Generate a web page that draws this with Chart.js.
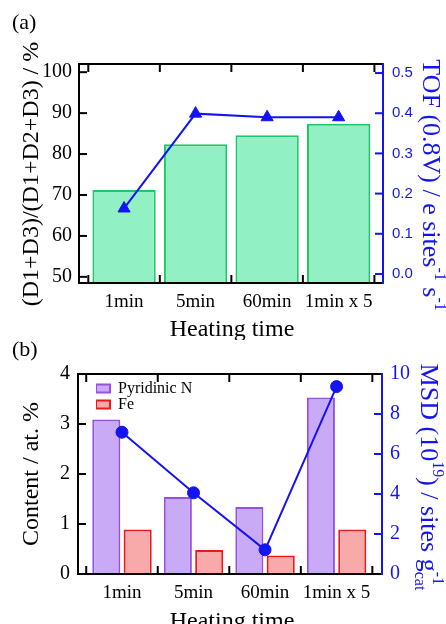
<!DOCTYPE html>
<html>
<head>
<meta charset="utf-8">
<script src="https://cdn.jsdelivr.net/npm/chart.js@4.4.1/dist/chart.umd.min.js"></script>
<style>
  body { margin: 0; background: #fff; width: 446px; height: 624px; overflow: hidden; }
  canvas { display: block; }
</style>
</head>
<body>
<canvas id="chartA" width="446" height="340"></canvas>
<canvas id="chartB" width="446" height="284"></canvas>
<script>
// data
const categories = ['1min', '5min', '60min', '1min x 5'];

const ratioValues = [71.2, 82.4, 84.6, 87.4];      // (D1+D3)/(D1+D2+D3) %
const tofValues = [0.163, 0.399, 0.390, 0.390];    // TOF at 0.8 V
const ratioTicks = [50, 60, 70, 80, 90, 100];
const tofTicks = [0, 0.1, 0.2, 0.3, 0.4, 0.5];

const pyridinicN = [3.09, 1.54, 1.34, 3.53];       // at. %
const feContent = [0.89, 0.48, 0.37, 0.89];        // at. %
const msdValues = [7.09, 4.06, 1.21, 9.37];        // 10^19 sites g-1
const contentTicks = [0, 1, 2, 3, 4];
const msdTicks = [0, 2, 4, 6, 8, 10];

const BLUE = 'rgb(20,20,240)';
const SERIF = '"Liberation Serif", "Times New Roman", serif';
const TICK_LEN = 8;

const points = vals => vals.map((v, i) => ({ x: i, y: v }));

function drawRich(ctx, t) {
  const big = t.size + 'px ' + SERIF;
  const small = Math.round(t.size * 0.6) + 'px ' + SERIF;
  const widthOf = p => {
    if (p.t) { ctx.font = big; return ctx.measureText(p.t).width; }
    ctx.font = small;
    return Math.max(p.sup ? ctx.measureText(p.sup).width : 0,
                    p.sub ? ctx.measureText(p.sub).width : 0);
  };
  let total = 0;
  t.parts.forEach(p => { total += widthOf(p); });
  ctx.save();
  ctx.translate(t.x, t.y);
  ctx.rotate(t.rot * Math.PI / 180);
  ctx.fillStyle = t.color;
  ctx.textAlign = 'left';
  ctx.textBaseline = 'alphabetic';
  let x = -total / 2;
  t.parts.forEach(p => {
    const w = widthOf(p);
    if (p.t) {
      ctx.font = big;
      ctx.fillText(p.t, x, 0);
    } else {
      ctx.font = small;
      if (p.sup) ctx.fillText(p.sup, x, -t.size * 0.48);
      if (p.sub) ctx.fillText(p.sub, x, t.size * 0.25);
    }
    x += w;
  });
  ctx.restore();
}

// frame, inward ticks, axis titles and panel letter
const decor = {
  id: 'decor',
  afterLayout(chart, args, opts) {
    if (chart.legend && opts.legendShift) {
      chart.legend.left = chart.chartArea.left + opts.legendShift[0];
      chart.legend.top = chart.chartArea.top + opts.legendShift[1];
    }
  },
  afterDraw(chart, args, opts) {
    const { ctx, chartArea: a, scales } = chart;
    const seg = (x1, y1, x2, y2, color) => {
      ctx.strokeStyle = color;
      ctx.lineWidth = 2;
      ctx.beginPath();
      ctx.moveTo(x1, y1);
      ctx.lineTo(x2, y2);
      ctx.stroke();
    };
    ctx.save();
    for (let i = 0; i <= categories.length; i++) {
      const x = scales.x.getPixelForValue(i - 0.5);
      seg(x, a.top, x, a.top + TICK_LEN, '#000');
      seg(x, a.bottom, x, a.bottom - TICK_LEN, '#000');
    }
    scales.y.ticks.forEach(t => {
      const y = scales.y.getPixelForValue(t.value);
      seg(a.left, y, a.left + TICK_LEN, y, '#000');
    });
    scales.y2.ticks.forEach(t => {
      const y = scales.y2.getPixelForValue(t.value);
      seg(a.right, y, a.right - TICK_LEN, y, BLUE);
    });
    ctx.lineCap = 'square';
    seg(a.left, a.top, a.right, a.top, '#000');
    seg(a.left, a.top, a.left, a.bottom, '#000');
    seg(a.left, a.bottom, a.right, a.bottom, '#000');
    seg(a.right, a.top, a.right, a.bottom, BLUE);

    ctx.fillStyle = '#000';
    ctx.font = '22px ' + SERIF;
    ctx.textAlign = 'left';
    ctx.textBaseline = 'alphabetic';
    ctx.fillText(opts.panel, opts.panelPos[0], opts.panelPos[1]);
    opts.titles.forEach(t => drawRich(ctx, t));
    ctx.restore();
  }
};

const xAxis = (min, max, height) => ({
  type: 'linear',
  min, max,
  offset: false,
  afterBuildTicks: s => { s.ticks = categories.map((c, i) => ({ value: i })); },
  afterFit: s => { s.height = height; },
  grid: { display: false, drawTicks: false },
  border: { display: false },
  ticks: {
    callback: v => categories[v],
    font: { family: SERIF, size: 19 },
    color: '#000',
    padding: 8,
    maxRotation: 0,
    autoSkip: false
  }
});

const yAxis = (opts) => ({
  type: 'linear',
  position: opts.position,
  min: opts.min,
  max: opts.max,
  afterBuildTicks: s => { s.ticks = opts.ticks.map(v => ({ value: v })); },
  afterFit: s => { s.width = opts.width; },
  grid: { display: false, drawTicks: false },
  border: { display: false },
  ticks: {
    callback: opts.format || (v => v),
    font: opts.font,
    color: opts.color,
    padding: opts.padding
  }
});

new Chart(document.getElementById('chartA'), {
  type: 'bar',
  data: {
    datasets: [
      {
        type: 'line',
        data: points(tofValues),
        yAxisID: 'y2',
        order: 0,
        borderColor: BLUE,
        borderWidth: 2,
        pointStyle: 'triangle',
        pointRadius: 7,
        pointBackgroundColor: BLUE,
        pointBorderColor: BLUE,
        pointBorderWidth: 1
      },
      {
        type: 'bar',
        data: points(ratioValues),
        yAxisID: 'y',
        order: 1,
        backgroundColor: 'rgb(145,240,196)',
        borderColor: 'rgb(30,200,105)',
        borderWidth: 2,
        categoryPercentage: 1,
        barPercentage: 0.885
      }
    ]
  },
  options: {
    responsive: false,
    animation: false,
    devicePixelRatio: 1,
    layout: { padding: { top: 64, left: 0, right: 0, bottom: 0 } },
    scales: {
      x: xAxis(-0.63, 3.62, 57),
      y: yAxis({ position: 'left', min: 48.5, max: 102, ticks: ratioTicks, width: 79,
                 font: { family: SERIF, size: 20 }, color: '#000', padding: 7 }),
      y2: yAxis({ position: 'right', min: -0.0225, max: 0.5225, ticks: tofTicks, width: 63,
                  format: v => v.toFixed(1),
                  font: { family: '"Liberation Sans", Arial, sans-serif', size: 15 },
                  color: BLUE, padding: 9 })
    },
    plugins: {
      legend: { display: false },
      tooltip: { enabled: false },
      decor: {
        panel: '(a)',
        panelPos: [12, 29],
        titles: [
          { parts: [{ t: '(D1+D3)/(D1+D2+D3) / %' }], x: 38, y: 174, rot: -90, size: 24, color: '#000' },
          { parts: [{ t: 'TOF (0.8V) / e sites' }, { sup: '-1' }, { t: ' s' }, { sup: '-1' }],
            x: 423, y: 185, rot: 90, size: 26, color: BLUE },
          { parts: [{ t: 'Heating time' }], x: 232, y: 336, rot: 0, size: 24, color: '#000' }
        ]
      }
    }
  },
  plugins: [decor]
});

new Chart(document.getElementById('chartB'), {
  type: 'bar',
  data: {
    datasets: [
      {
        type: 'line',
        label: 'MSD',
        data: points(msdValues),
        yAxisID: 'y2',
        order: 0,
        borderColor: BLUE,
        borderWidth: 2,
        pointRadius: 6,
        pointBackgroundColor: BLUE,
        pointBorderColor: BLUE,
        pointBorderWidth: 1
      },
      {
        type: 'bar',
        label: 'Pyridinic N',
        data: points(pyridinicN),
        yAxisID: 'y',
        order: 1,
        backgroundColor: 'rgb(200,170,246)',
        borderColor: 'rgb(150,80,226)',
        borderWidth: 2,
        categoryPercentage: 0.877,
        barPercentage: 0.895
      },
      {
        type: 'bar',
        label: 'Fe',
        data: points(feContent),
        yAxisID: 'y',
        order: 1,
        backgroundColor: 'rgb(248,170,170)',
        borderColor: 'rgb(235,25,25)',
        borderWidth: 2,
        categoryPercentage: 0.877,
        barPercentage: 0.895
      }
    ]
  },
  options: {
    responsive: false,
    animation: false,
    devicePixelRatio: 1,
    layout: { padding: { top: 34, left: 0, right: 0, bottom: 0 } },
    scales: {
      x: xAxis(-0.615, 3.635, 50),
      y: yAxis({ position: 'left', min: 0, max: 4, ticks: contentTicks, width: 78,
                 font: { family: SERIF, size: 20 }, color: '#000', padding: 8 }),
      y2: yAxis({ position: 'right', min: 0, max: 10, ticks: msdTicks, width: 64,
                  font: { family: SERIF, size: 20 }, color: BLUE, padding: 8 })
    },
    plugins: {
      legend: {
        position: 'chartArea',
        align: 'start',
        labels: {
          filter: item => item.text !== 'MSD',
          boxWidth: 14,
          boxHeight: 8,
          padding: 0,
          color: '#000',
          font: { family: SERIF, size: 16 }
        }
      },
      tooltip: { enabled: false },
      decor: {
        panel: '(b)',
        panelPos: [12, 16],
        legendShift: [18, 6.5],
        titles: [
          { parts: [{ t: 'Content / at. %' }], x: 38, y: 134, rot: -90, size: 24, color: '#000' },
          { parts: [{ t: 'MSD (10' }, { sup: '19' }, { t: ') / sites g' }, { sup: '-1', sub: 'cat' }],
            x: 421, y: 137, rot: 90, size: 26, color: BLUE },
          { parts: [{ t: 'Heating time' }], x: 232, y: 288, rot: 0, size: 24, color: '#000' }
        ]
      }
    }
  },
  plugins: [decor]
});
</script>
</body>
</html>
